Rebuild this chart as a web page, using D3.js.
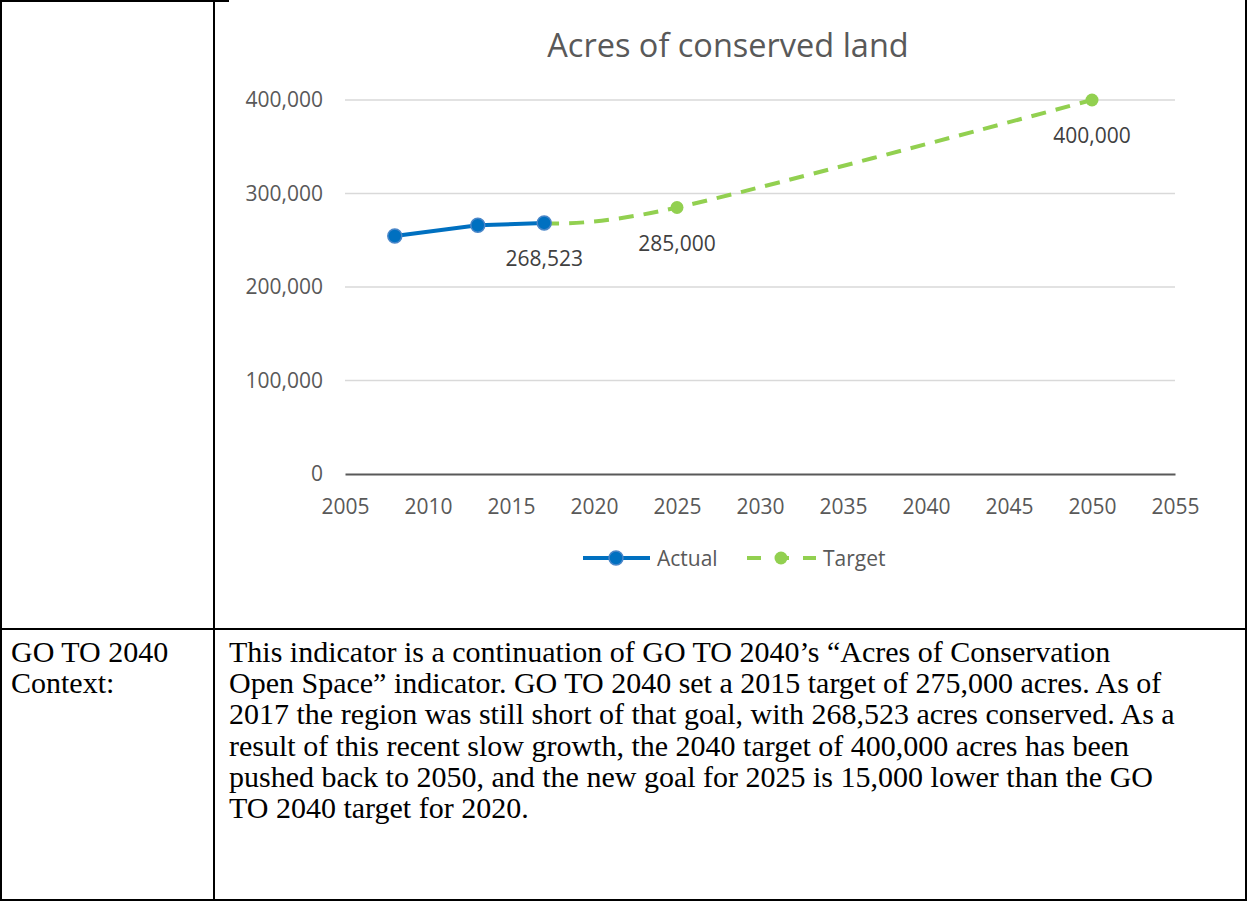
<!DOCTYPE html>
<html>
<head>
<meta charset="utf-8">
<script src="https://cdn.jsdelivr.net/npm/d3@7"></script>
<style>
  body { margin: 0; background: #fff; }
  svg { display: block; }
</style>
</head>
<body>
<svg id="chart" width="1249" height="902"></svg>
<script>
// data
var actualYears = [2008, 2013, 2017],
    actualValues = [254500, 266000, 268523];
var targetYears = [2017, 2025, 2050],
    targetValues = [268523, 285000, 400000];
var labelYears = [2017, 2025, 2050],
    labelValues = [268523, 285000, 400000];
var xTicks = [2005, 2010, 2015, 2020, 2025, 2030, 2035, 2040, 2045, 2050, 2055],
    yTicks = [0, 100000, 200000, 300000, 400000];
var contextLines = [
    "This indicator is a continuation of GO TO 2040\u2019s \u201cAcres of Conservation",
    "Open Space\u201d indicator. GO TO 2040 set a 2015 target of 275,000 acres. As of",
    "2017 the region was still short of that goal, with 268,523 acres conserved. As a",
    "result of this recent slow growth, the 2040 target of 400,000 acres has been",
    "pushed back to 2050, and the new goal for 2025 is 15,000 lower than the GO",
    "TO 2040 target for 2020."
];
var headerLines = ["GO TO 2040", "Context:"];

var svg = d3.select("#chart");
var sans = "'Open Sans', 'Noto Sans', sans-serif",
    serif = "'Liberation Serif', 'DejaVu Serif', serif";

// table borders
var border = svg.append("g").attr("stroke", "#000").attr("stroke-width", 2).attr("fill", "none");
border.append("line").attr("x1", 1).attr("x2", 1).attr("y1", 0).attr("y2", 901);
border.append("line").attr("x1", 0).attr("x2", 229).attr("y1", 1).attr("y2", 1);
border.append("line").attr("x1", 214).attr("x2", 214).attr("y1", 0).attr("y2", 901);
border.append("line").attr("x1", 1246).attr("x2", 1246).attr("y1", 0).attr("y2", 901);
border.append("line").attr("x1", 0).attr("x2", 1247).attr("y1", 629).attr("y2", 629);
border.append("line").attr("x1", 0).attr("x2", 1247).attr("y1", 900).attr("y2", 900);

// chart
var x = d3.scaleLinear().domain([2005, 2055]).range([345, 1175]),
    y = d3.scaleLinear().domain([0, 400000]).range([474, 100]);

svg.append("text")
    .attr("x", 728).attr("y", 57)
    .attr("text-anchor", "middle")
    .attr("font-family", sans).attr("font-size", "32.5px")
    .attr("fill", "#595959")
    .text("Acres of conserved land");

// gridlines
svg.append("g").selectAll("line")
    .data(yTicks.filter(function (d) { return d > 0; }))
    .enter().append("line")
    .attr("x1", x(2005)).attr("x2", x(2055))
    .attr("y1", function (d) { return y(d); })
    .attr("y2", function (d) { return y(d); })
    .attr("stroke", "#d9d9d9").attr("stroke-width", 1.5);

// y axis labels
var yAxis = svg.append("g")
    .attr("transform", "translate(" + (x(2005) - 22) + ",0)")
    .call(d3.axisLeft(y).tickValues(yTicks).tickSize(0).tickPadding(0)
        .tickFormat(d3.format(",")));
yAxis.select(".domain").remove();
yAxis.selectAll("text")
    .attr("font-family", sans).attr("font-size", "21px")
    .attr("fill", "#595959");

// x axis
var xAxis = svg.append("g")
    .attr("transform", "translate(0," + y(0) + ")")
    .call(d3.axisBottom(x).tickValues(xTicks).tickSize(0).tickPadding(25)
        .tickFormat(d3.format("d")));
xAxis.select(".domain").attr("stroke", "#595959").attr("stroke-width", 2);
xAxis.selectAll("text")
    .attr("font-family", sans).attr("font-size", "21px")
    .attr("fill", "#595959");

// target line (smoothed, dashed)
var targetData = targetYears.map(function (d, i) { return [d, targetValues[i]]; });
var actualData = actualYears.map(function (d, i) { return [d, actualValues[i]]; });

var smooth = d3.line()
    .x(function (d) { return x(d[0]); })
    .y(function (d) { return y(d[1]); })
    .curve(d3.curveCatmullRom.alpha(0));
var straight = d3.line()
    .x(function (d) { return x(d[0]); })
    .y(function (d) { return y(d[1]); });

svg.append("path")
    .datum(targetData)
    .attr("d", smooth)
    .attr("fill", "none")
    .attr("stroke", "#92d050").attr("stroke-width", 4)
    .attr("stroke-dasharray", "15,10");

svg.append("g").selectAll("circle")
    .data(targetData)
    .enter().append("circle")
    .attr("cx", function (d) { return x(d[0]); })
    .attr("cy", function (d) { return y(d[1]); })
    .attr("r", 6.5)
    .attr("fill", "#92d050");

svg.append("path")
    .datum(actualData)
    .attr("d", straight)
    .attr("fill", "none")
    .attr("stroke", "#0070c0").attr("stroke-width", 4);

svg.append("g").selectAll("circle")
    .data(actualData)
    .enter().append("circle")
    .attr("cx", function (d) { return x(d[0]); })
    .attr("cy", function (d) { return y(d[1]); })
    .attr("r", 7)
    .attr("fill", "#0070c0")
    .attr("stroke", "#4a86c8").attr("stroke-width", 1.5);

// data labels
svg.append("g").selectAll("text")
    .data(labelYears)
    .enter().append("text")
    .attr("x", function (d) { return x(d); })
    .attr("y", function (d, i) { return y(labelValues[i]) + 43; })
    .attr("text-anchor", "middle")
    .attr("font-family", sans).attr("font-size", "21px")
    .attr("fill", "#404040")
    .text(function (d, i) { return d3.format(",")(labelValues[i]); });

// legend
var legend = svg.append("g").attr("transform", "translate(0,558)");
legend.append("line").attr("x1", 583).attr("x2", 650)
    .attr("stroke", "#0070c0").attr("stroke-width", 4);
legend.append("circle").attr("cx", 616).attr("r", 7)
    .attr("fill", "#0070c0").attr("stroke", "#4a86c8").attr("stroke-width", 1.5);
legend.append("text").attr("x", 657).attr("y", 8)
    .attr("font-family", sans).attr("font-size", "21px").attr("fill", "#595959")
    .text("Actual");
legend.append("line").attr("x1", 747).attr("x2", 816)
    .attr("stroke", "#92d050").attr("stroke-width", 4)
    .attr("stroke-dasharray", "14,14");
legend.append("circle").attr("cx", 781).attr("r", 6.5).attr("fill", "#92d050");
legend.append("text").attr("x", 823).attr("y", 8)
    .attr("font-family", sans).attr("font-size", "21px").attr("fill", "#595959")
    .text("Target");

// context text
var body = svg.append("g").attr("font-family", serif).attr("fill", "#000");
var probe = body.append("text").attr("font-size", "100px").text(contextLines[2]);
var fitSize = Math.min(30, 996 / probe.node().getComputedTextLength() * 100);
probe.remove();

body.selectAll("text.line")
    .data(contextLines)
    .enter().append("text")
    .attr("class", "line")
    .attr("x", 229)
    .attr("y", function (d, i) { return 662 + i * 31.2; })
    .attr("font-size", fitSize + "px")
    .text(function (d) { return d; });

body.selectAll("text.head")
    .data(headerLines)
    .enter().append("text")
    .attr("class", "head")
    .attr("x", 11)
    .attr("y", function (d, i) { return 662 + i * 31.2; })
    .attr("font-size", fitSize + "px")
    .text(function (d) { return d; });
</script>
</body>
</html>
